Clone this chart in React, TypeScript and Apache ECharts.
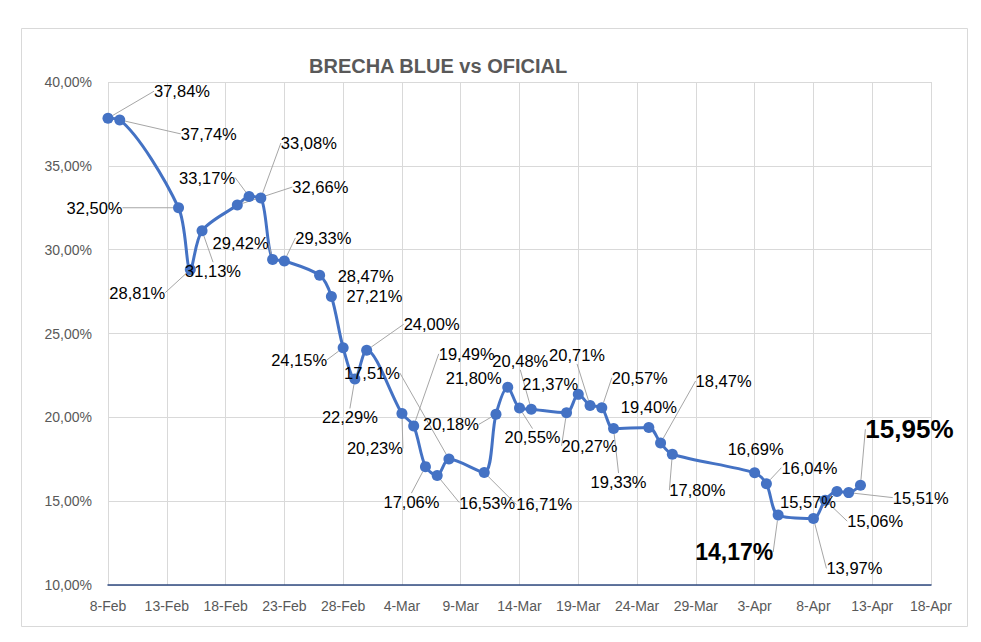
import React, { useEffect, useRef } from "react";
import * as echarts from "echarts";

// Dates of each observation (business days, 2024)
const dates: string[] = [
  "2024-02-08", "2024-02-09", "2024-02-14", "2024-02-15", "2024-02-16",
  "2024-02-19", "2024-02-20", "2024-02-21", "2024-02-22", "2024-02-23",
  "2024-02-26", "2024-02-27", "2024-02-28", "2024-02-29", "2024-03-01",
  "2024-03-04", "2024-03-05", "2024-03-06", "2024-03-07", "2024-03-08",
  "2024-03-11", "2024-03-12", "2024-03-13", "2024-03-14", "2024-03-15",
  "2024-03-18", "2024-03-19", "2024-03-20", "2024-03-21", "2024-03-22",
  "2024-03-25", "2024-03-26", "2024-03-27", "2024-04-03", "2024-04-04",
  "2024-04-05", "2024-04-08", "2024-04-09", "2024-04-10", "2024-04-11",
  "2024-04-12",
];

// Brecha (gap) blue vs oficial, in %
const brecha: number[] = [
  37.84, 37.74, 32.5, 28.81, 31.13,
  32.66, 33.17, 33.08, 29.42, 29.33,
  28.47, 27.21, 24.15, 22.29, 24.0,
  20.23, 19.49, 17.06, 16.53, 17.51,
  16.71, 20.18, 21.8, 20.55, 20.48,
  20.27, 21.37, 20.71, 20.57, 19.33,
  19.4, 18.47, 17.8, 16.69, 16.04,
  14.17, 13.97, 15.06, 15.57, 15.51,
  15.95,
];

// Label placement relative to each point (px), like the dragged Excel labels
const labelOffsets: number[][] = [
  [74, -27], [89, 14], [-84, 0], [-53, 23], [11, 40],
  [83, -18], [-42, -19], [48, -55], [-32, -16], [39, -23],
  [46, 1], [43, 0], [-44, 12], [-5, 38], [65, -26],
  [-27, 35], [53, -72], [-14, 35], [50, 27], [-77, -86],
  [60, 32], [-45, 10], [-34, -9], [13, 29], [-11, -48],
  [23, 33], [-28, -10], [-13, -50], [38, -30], [5, 53],
  [0, -20], [63, -62], [25, 36], [1, -24], [43, -16],
  [-44, 37], [41, 50], [50, 21], [-29, 10], [72, 5],
  [49, -56],
];

// Labels without leader lines
const noLeader: string[] = ["2024-02-26", "2024-02-27", "2024-03-13", "2024-03-19", "2024-03-25", "2024-04-03", "2024-04-10"];
// Emphasised labels (bold, large)
const bigLabels: { date: string; size: number }[] = [
  { date: "2024-04-05", size: 23 },
  { date: "2024-04-12", size: 26 },
];

const axisStart = "2024-02-08";
const axisEnd = "2024-04-18";
const tickDays = 5;
const yMin = 10;
const yMax = 40;
const yStep = 5;
const monthNames = ["Jan", "Feb", "Mar", "Apr", "May", "Jun", "Jul", "Aug", "Sep", "Oct", "Nov", "Dec"];

const DAY = 86400000;
const toUTC = (s: string) => {
  const [y, m, d] = s.split("-").map(Number);
  return Date.UTC(y, m - 1, d);
};
const base = toUTC(axisStart);
const dayOffset = (s: string) => Math.round((toUTC(s) - base) / DAY);
const fmtPct = (v: number) => v.toFixed(2).replace(".", ",") + "%";

export default function App() {
  const ref = useRef<HTMLDivElement>(null);

  useEffect(() => {
    if (!ref.current) return;
    const chart = echarts.init(ref.current, null, { renderer: "svg" });
    const font = "'Liberation Sans', Arial, sans-serif";

    const data = dates.map((d, i) => {
      const big = bigLabels.find((b) => b.date === d);
      const item: any = { value: [dayOffset(d), brecha[i]] };
      if (big) {
        item.label = { fontSize: big.size, fontWeight: "bold" };
      }
      if (noLeader.includes(d)) {
        item.labelLine = { show: false };
      }
      return item;
    });

    chart.setOption({
      animation: false,
      backgroundColor: "#ffffff",
      title: {
        text: "BRECHA BLUE vs OFICIAL",
        left: 304,
        top: 51,
        textStyle: { fontFamily: font, fontSize: 20, fontWeight: "bold", color: "#595959" },
      },
      graphic: [
        {
          type: "rect",
          shape: { x: 21.5, y: 28.5, width: 946, height: 598 },
          style: { fill: "none", stroke: "#d9d9d9", lineWidth: 1 },
          silent: true,
          z: -1,
        },
      ],
      grid: { left: 108, right: 50, top: 82, bottom: 57, containLabel: false },
      xAxis: {
        type: "value",
        min: 0,
        max: dayOffset(axisEnd),
        interval: tickDays,
        axisLine: { show: true, onZero: false, lineStyle: { color: "#2F4A80", width: 1.5 } },
        axisTick: { show: false },
        splitLine: { show: true, lineStyle: { color: "#d9d9d9", width: 1 } },
        axisLabel: {
          margin: 14,
          color: "#595959",
          fontFamily: font,
          fontSize: 14,
          showMinLabel: true,
          showMaxLabel: true,
          formatter: (v: number) => {
            const d = new Date(base + v * DAY);
            return `${d.getUTCDate()}-${monthNames[d.getUTCMonth()]}`;
          },
        },
      },
      yAxis: {
        type: "value",
        min: yMin,
        max: yMax,
        interval: yStep,
        axisLine: { show: false },
        axisTick: { show: false },
        splitLine: { show: true, lineStyle: { color: "#d9d9d9", width: 1 } },
        axisLabel: {
          margin: 16,
          color: "#595959",
          fontFamily: font,
          fontSize: 14,
          formatter: (v: number) => fmtPct(v),
        },
      },
      series: [
        {
          type: "line",
          data,
          smooth: 0.3,
          symbol: "circle",
          symbolSize: 11,
          itemStyle: { color: "#4472C4" },
          lineStyle: { color: "#4472C4", width: 3 },
          label: {
            show: true,
            position: "inside",
            color: "#000000",
            fontFamily: font,
            fontSize: 16.5,
            formatter: (p: any) => fmtPct(p.value[1]),
          },
          labelLine: {
            show: true,
            lineStyle: { color: "#a6a6a6", width: 1 },
          },
          labelLayout: (params: any) => {
            const off = labelOffsets[params.dataIndex] || [0, 0];
            const r = params.rect;
            return {
              x: r.x + r.width / 2 + off[0],
              y: r.y + r.height / 2 + off[1],
              align: "center",
              verticalAlign: "middle",
            };
          },
          z: 3,
        },
      ],
    });

    return () => chart.dispose();
  }, []);

  return (
    <div
      ref={ref}
      style={{ position: "absolute", left: 0, top: 0, width: 981, height: 642, background: "#fff" }}
    />
  );
}
